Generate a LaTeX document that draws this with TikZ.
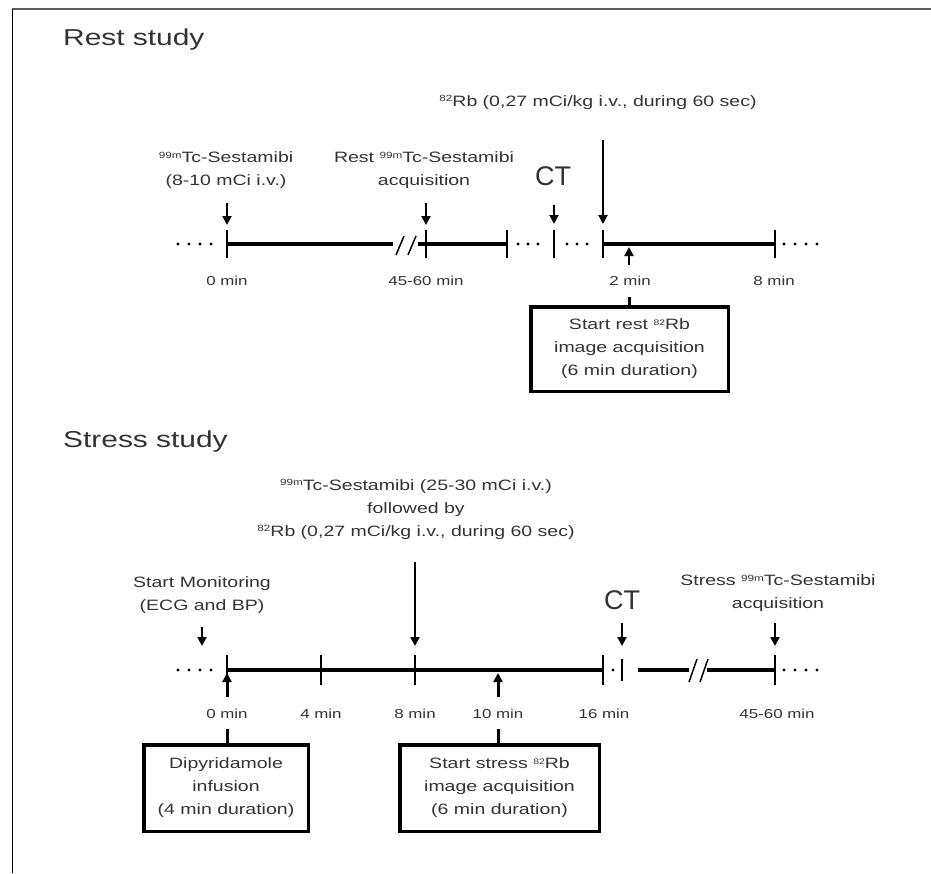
\documentclass[tikz,border=0pt]{standalone}
\usepackage{fontspec}
\setmainfont[FakeStretch=1.3]{Liberation Sans}
\newfontfamily\ctfont{Liberation Sans}
\usetikzlibrary{arrows.meta,calc}
\definecolor{txtc}{gray}{0.2}
\newcommand\iso[2][9]{\raisebox{4.5pt}{\fontsize{#1}{#1}\selectfont #2}}
\begin{document}
\begin{tikzpicture}[x=1pt,y=-1pt,
  txt/.style={font=\fontsize{15}{23}\selectfont, text=txtc, align=center, inner sep=0pt},
  lbl/.style={font=\fontsize{13}{15}\selectfont, text=txtc, inner sep=0pt, anchor=base},
  head/.style={font=\fontsize{23}{27}\selectfont, text=txtc, inner sep=0pt, anchor=base west},
  ctl/.style={font=\ctfont\fontsize{27}{30}\selectfont, text=txtc, inner sep=0pt, anchor=base},
  tl/.style={line width=4.5pt},
  tick/.style={line width=1.5pt},
  slash/.style={line width=1.5pt},
  arr/.style={line width=2pt, -{Triangle[length=9pt,width=9pt]}},
  stem/.style={line width=3pt},
  infobox/.style={draw, line width=3.5pt, align=center, inner sep=0pt,
     font=\fontsize{15}{23}\selectfont, text=txtc},
  dot/.style={fill=black}
]
\useasboundingbox (0,0) rectangle (931,873);
% frame
\draw[line width=2pt, black!65] (12,9) -- (931,9);
\draw[line width=1pt] (12,9) -- (12,873);

% ================= REST =================
\node[head] (resttitle) at (63,45) {Rest study};

% timeline
\draw[tl] (227,244) -- (393,244);
\draw[tl] (418,244) -- (507,244);
\draw[tl] (603,244) -- (775,244);
\draw[slash] (396,255) -- (404,236);
\draw[slash] (408,255) -- (416,236);
\foreach \x in {227,426,507,554,603,775} \draw[tick] (\x,230) -- (\x,258);
\foreach \x in {178,189,200,211, 518,528,538, 567,577,587, 784,795,806,817}
  \fill[dot] (\x,244) circle (1.6);

% labels
\node[lbl] (r0) at (227,285) {0 min};
\node[lbl] (r45) at (426,285) {45-60 min};
\node[lbl] (r2) at (630,285) {2 min};
\node[lbl] (r8) at (774,285) {8 min};

% texts
\node[txt] (rtc) at (226,170.6) {\iso{99m}Tc-Sestamibi\\(8-10 mCi i.v.)};
\node[txt] (racq) at (424,170.6) {Rest \iso{99m}Tc-Sestamibi\\acquisition};
\node[txt, anchor=base] (rrb) at (598,106) {\iso{82}Rb (0,27 mCi/kg i.v., during 60 sec)};
\node[ctl] (rct) at (553,185) {CT};

% arrows
\coordinate (ra1s) at (227,203); \coordinate (ra1e) at (227,225);
\coordinate (ra2s) at (426,203); \coordinate (ra2e) at (426,225);
\coordinate (ra3s) at (554,205); \coordinate (ra3e) at (554,224);
\coordinate (ra4s) at (603,140); \coordinate (ra4e) at (603,224);
\coordinate (ra5s) at (629,265); \coordinate (ra5e) at (629,247);
\draw[arr] (ra1s) -- (ra1e);
\draw[arr] (ra2s) -- (ra2e);
\draw[arr] (ra3s) -- (ra3e);
\draw[arr] (ra4s) -- (ra4e);
\draw[arr] (ra5s) -- (ra5e);

% box
\node[infobox, minimum width=197.5pt, minimum height=84.5pt] (rbox) at (629.5,349)
  {Start rest \iso[8]{82}Rb\\image acquisition\\(6 min duration)};
\coordinate (rstem) at (629,297);
\draw[stem] (rstem) -- (rstem |- rbox.north);

% ================= STRESS =================
\node[head] (stresstitle) at (63,447) {Stress study};

% timeline
\draw[tl] (227,670) -- (603,670);
\draw[tl] (638,670) -- (689,670);
\draw[tl] (707,670) -- (775,670);
\draw[slash] (689,682) -- (697,659);
\draw[slash] (700,682) -- (708,659);
\foreach \x in {227,321,415,603,775} \draw[tick] (\x,655) -- (\x,685);
\draw[tick] (622,659) -- (622,681);
\foreach \x in {178,189,200,211, 613, 784,795,806,817}
  \fill[dot] (\x,670) circle (1.6);

% labels
\node[lbl] (s0) at (227,718) {0 min};
\node[lbl] (s4) at (321,718) {4 min};
\node[lbl] (s8) at (415,718) {8 min};
\node[lbl] (s10) at (498,718) {10 min};
\node[lbl] (s16) at (604,718) {16 min};
\node[lbl] (s45) at (777,718) {45-60 min};

% texts
\node[txt] (stc) at (416,509.5) {\iso{99m}Tc-Sestamibi (25-30 mCi i.v.)\\followed by\\\iso{82}Rb (0,27 mCi/kg i.v., during 60 sec)};
\node[txt] (smon) at (202,595.5) {Start Monitoring\\(ECG and BP)};
\node[ctl] (sct) at (622,609) {CT};
\node[txt] (sacq) at (778,593.5) {Stress \iso{99m}Tc-Sestamibi\\acquisition};

% arrows
\coordinate (sa1s) at (202,627); \coordinate (sa1e) at (202,646);
\coordinate (sa2s) at (415,562); \coordinate (sa2e) at (415,646);
\coordinate (sa3s) at (622,623); \coordinate (sa3e) at (622,646);
\coordinate (sa4s) at (775,623); \coordinate (sa4e) at (775,646);
\coordinate (sa5s) at (227,697); \coordinate (sa5e) at (227,673);
\coordinate (sa6s) at (498,697); \coordinate (sa6e) at (498,673);
\draw[arr] (sa1s) -- (sa1e);
\draw[arr] (sa2s) -- (sa2e);
\draw[arr] (sa3s) -- (sa3e);
\draw[arr] (sa4s) -- (sa4e);
\draw[arr, line width=3pt] (sa5s) -- (sa5e);
\draw[arr, line width=3pt] (sa6s) -- (sa6e);

% boxes
\node[infobox, minimum width=164.5pt, minimum height=86.5pt] (sbox1) at (226,788)
  {Dipyridamole\\infusion\\(4 min duration)};
\node[infobox, minimum width=199.5pt, minimum height=86.5pt] (sbox2) at (499.5,788)
  {Start stress \iso[8]{82}Rb\\image acquisition\\(6 min duration)};
\coordinate (sstem1) at (227,729);
\coordinate (sstem2) at (498,729);
\draw[stem] (sstem1) -- (sstem1 |- sbox1.north);
\draw[stem] (sstem2) -- (sstem2 |- sbox2.north);
\end{tikzpicture}
\end{document}
